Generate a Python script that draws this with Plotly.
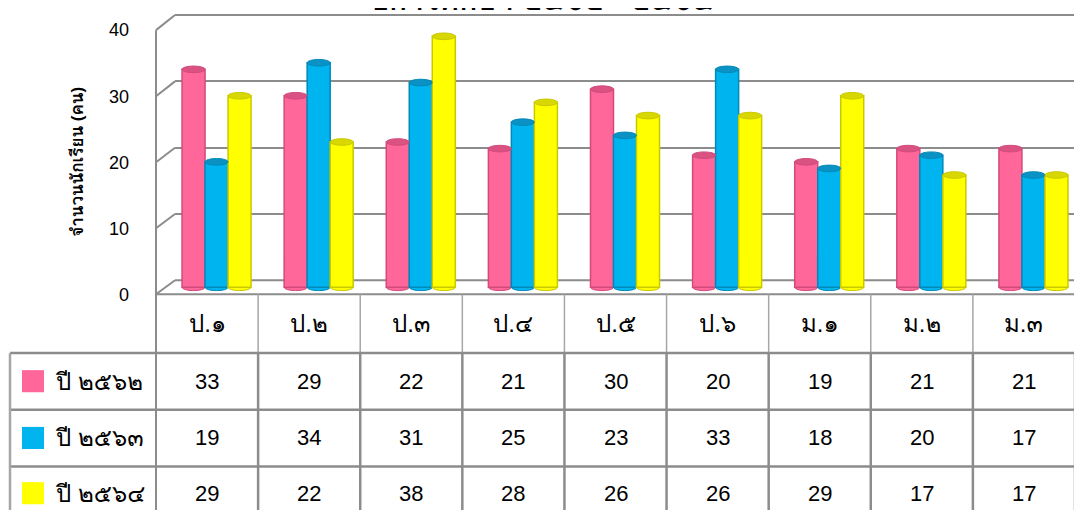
import plotly.graph_objects as go

# ---------------- data ----------------
categories = ["ป.๑", "ป.๒", "ป.๓", "ป.๔", "ป.๕", "ป.๖", "ม.๑", "ม.๒", "ม.๓"]
series_names = ["ปี ๒๕๖๒", "ปี ๒๕๖๓", "ปี ๒๕๖๔"]
values_2562 = [33, 29, 22, 21, 30, 20, 19, 21, 21]
values_2563 = [19, 34, 31, 25, 23, 33, 18, 20, 17]
values_2564 = [29, 22, 38, 28, 26, 26, 29, 17, 17]
y_ticks = [0, 10, 20, 30, 40]
title_text = "ปีการศึกษา ๒๕๖๒ - ๒๕๖๔"
y_title = "จำนวนนักเรียน (คน)"

series_values = [values_2562, values_2563, values_2564]
main_colors = ["#FF6699", "#00B4F0", "#FFFF00"]
edge_colors = ["#D24A7C", "#0089B8", "#C9C900"]
cap_colors = ["#DA5282", "#0A92C4", "#D8D800"]

# ---------------- geometry (window pixels) ----------------
OFF_X = 8                      # horizontal page offset of the figure
OFF_Y, SCALE_Y = 16.9, 0.957   # measured vertical placement of the figure in the picture
WIN_W, WIN_H = 1082, 510
W, H = WIN_W - OFF_X, 516
FONT = "Liberation Sans, Arial, sans-serif"
THAI_FONT = "Liberation Sans, Waree, Loma, Tahoma, sans-serif"
GRID = "#8C8C8C"


def fx(x):
    return (x - OFF_X) / W


def fy(y):
    return 1 - ((y - OFF_Y) / SCALE_Y) / H


front_left, front_right = 156, 1075
front_top, front_bot = 29, 292
back_left, back_top, back_bot = 175, 14, 278
col_w = (front_right - front_left) / len(categories)
bar_dx = 9.5  # bars sit half-way into the depth
bar_zero_y = 285
px_per_unit = (front_bot - front_top) / 40
back_ppu = (back_bot - back_top) / 40
bargap = 0.324

header_bot = 350.5
row_edges = [350.5, 407, 463.5, 520]
row_centers = [378.5, 435, 490]
legend_left = 10
table_bottom = WIN_H + 2

fig = go.Figure()

# back wall (gridlines) -> subplot xy
fig.add_trace(go.Scatter(x=[0], y=[0], mode="markers", marker=dict(opacity=0, size=1),
                         hoverinfo="skip", showlegend=False, xaxis="x", yaxis="y"))

# bars -> subplot x2y2
for k, (name, vals) in enumerate(zip(series_names, series_values)):
    fig.add_trace(go.Bar(
        x=list(range(len(categories))), y=vals, name=name,
        marker=dict(color=main_colors[k], line=dict(color=edge_colors[k], width=1.5)),
        xaxis="x2", yaxis="y2", showlegend=False, hoverinfo="skip",
    ))

# front axis tick labels -> subplot x3y3
fig.add_trace(go.Scatter(x=[0], y=[0], mode="markers", marker=dict(opacity=0, size=1),
                         hoverinfo="skip", showlegend=False, xaxis="x3", yaxis="y3"))

shapes = []
annotations = []

# cylinder caps (top and bottom ellipses)
bw = (1 - bargap) / 3
dy = 3.3 / px_per_unit
for k, vals in enumerate(series_values):
    for i, v in enumerate(vals):
        c = i + (k - 1) * bw
        shapes.append(dict(type="circle", xref="x2", yref="y2",
                           x0=c - bw / 2, x1=c + bw / 2, y0=-dy, y1=dy,
                           fillcolor=main_colors[k], line=dict(width=1, color=edge_colors[k]),
                           layer="below"))
        shapes.append(dict(type="circle", xref="x2", yref="y2",
                           x0=c - bw / 2, x1=c + bw / 2, y0=v - dy, y1=v + dy,
                           fillcolor=cap_colors[k], line=dict(width=1, color=edge_colors[k]),
                           layer="above"))


def line(x0, y0, x1, y1, color=GRID, width=2):
    shapes.append(dict(type="line", xref="paper", yref="paper",
                       x0=fx(x0), y0=fy(y0), x1=fx(x1), y1=fy(y1),
                       line=dict(color=color, width=width), layer="below"))


# back wall top edge and floor back edge
line(back_left, back_top, WIN_W + 2, back_top)
line(back_left, back_bot, WIN_W + 2, back_bot)
# side wall diagonals for each tick level
for t in y_ticks:
    yf = front_bot - t * px_per_unit
    yb = back_bot - t * back_ppu
    line(front_left, yf, back_left, yb)
# right floor diagonal
line(front_right, front_bot, WIN_W + 2, front_bot - 6)
# front floor edge / table top
line(front_left, front_bot, front_right, front_bot)
# front vertical axis line (continues into table)
line(front_left, front_top, front_left, table_bottom)

# table column separators
for i in range(1, len(categories) + 1):
    x = front_left + col_w * i
    line(x, front_bot, x, header_bot, color="#A6A6A6", width=1.5)
    line(x, header_bot, x, table_bottom, color=GRID, width=2.5)
# table row separators
for y in row_edges[:-1]:
    line(legend_left, y, front_right, y, color=GRID, width=2.5)
line(legend_left, header_bot, legend_left, table_bottom, color="#A6A6A6", width=2.5)

# category header labels
for i, cat in enumerate(categories):
    annotations.append(dict(x=fx(front_left + col_w * (i + 0.5)), y=fy((front_bot + header_bot) / 2),
                            xref="paper", yref="paper", xanchor="center", yanchor="middle",
                            text=cat, showarrow=False,
                            font=dict(family=THAI_FONT, size=24, color="#000000")))

# table values and legend keys
for k, (name, vals) in enumerate(zip(series_names, series_values)):
    yc = row_centers[k]
    for i, v in enumerate(vals):
        annotations.append(dict(x=fx(front_left + col_w * (i + 0.5)), y=fy(yc),
                                xref="paper", yref="paper", xanchor="center", yanchor="middle",
                                text=str(v), showarrow=False,
                                font=dict(family=FONT, size=22, color="#000000")))
    shapes.append(dict(type="rect", xref="paper", yref="paper",
                       x0=fx(22), x1=fx(44), y0=fy(yc - 11), y1=fy(yc + 11),
                       fillcolor=main_colors[k], line=dict(width=0)))
    annotations.append(dict(x=fx(53), y=fy(yc), xref="paper", yref="paper",
                            xanchor="left", yanchor="middle",
                            text=name, showarrow=False,
                            font=dict(family=THAI_FONT, size=24, color="#000000")))

# y-axis title
annotations.append(dict(x=fx(78), y=fy(160), xref="paper", yref="paper",
                        xanchor="center", yanchor="middle",
                        text="<b>" + y_title + "</b>",
                        textangle=-90, showarrow=False,
                        font=dict(family=THAI_FONT, size=17, color="#000000")))
# chart title (clipped at the top)
annotations.append(dict(x=fx(WIN_W / 2), y=fy(-2), xref="paper", yref="paper",
                        xanchor="center", yanchor="middle",
                        text="<b>" + title_text + "</b>",
                        showarrow=False, font=dict(family=THAI_FONT, size=30, color="#000000")))

# axis ranges derived from pixel geometry
bar_x0 = front_left + bar_dx
x2_max = -0.5 + (WIN_W - bar_x0) / col_w
bar_dom_bot = bar_zero_y + 1 * px_per_unit
wall_top_px = max(back_top, OFF_Y + 0.5)
wall_top_val = (back_bot - wall_top_px) / back_ppu

fig.update_layout(
    width=W, height=H,
    margin=dict(l=0, r=0, t=0, b=0),
    paper_bgcolor="#FFFFFF", plot_bgcolor="rgba(0,0,0,0)",
    barmode="group", bargap=bargap, bargroupgap=0,
    shapes=shapes, annotations=annotations,
    xaxis=dict(domain=[fx(back_left), 1], range=[0, 1], visible=False),
    yaxis=dict(domain=[fy(back_bot), fy(wall_top_px)], range=[0, wall_top_val], tickvals=[10, 20, 30],
               showgrid=True, gridcolor=GRID, gridwidth=2, zeroline=False,
               showticklabels=False, ticks=""),
    xaxis2=dict(domain=[fx(bar_x0), 1], range=[-0.5, x2_max], visible=False, anchor="y2"),
    yaxis2=dict(domain=[fy(bar_dom_bot), fy(bar_zero_y - 40 * px_per_unit)], range=[-1, 40],
                visible=False, anchor="x2"),
    xaxis3=dict(domain=[fx(front_left), fx(front_right)], range=[0, 1], visible=False, anchor="y3"),
    yaxis3=dict(domain=[fy(front_bot), fy(front_top)], range=[0, 40], tickvals=y_ticks,
                showgrid=False, zeroline=False, showline=False, ticks="",
                ticklabelstandoff=26, anchor="x3",
                tickfont=dict(family=FONT, size=18, color="#000000")),
)

fig.write_html("out.html")
